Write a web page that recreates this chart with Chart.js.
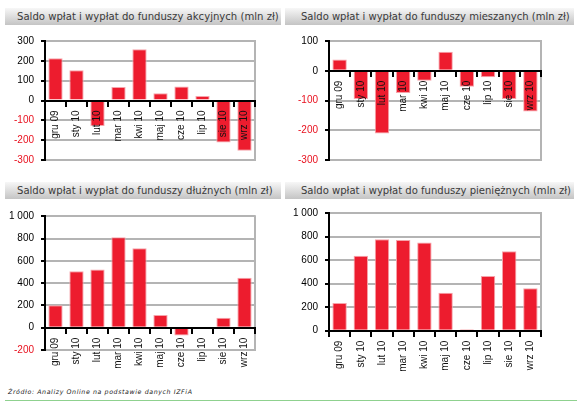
<!DOCTYPE html>
<html><head><meta charset="utf-8">
<script src="https://cdn.jsdelivr.net/npm/chart.js@4"></script>
<style>
body{margin:0;width:577px;height:402px;background:#fff;position:relative;overflow:hidden;}
.t{position:absolute;height:17px;background:linear-gradient(#f7f7f7,#c4c4c4);}
.t span{position:absolute;top:0;white-space:nowrap;color:#3a3a3a;font-family:"DejaVu Sans Condensed","DejaVu Sans";font-size:11px;line-height:17px;}
canvas{position:absolute;}
#src{position:absolute;left:8px;top:386px;white-space:nowrap;font-family:"DejaVu Sans";font-style:italic;font-size:8px;line-height:12px;color:#222;letter-spacing:0.6px;}
#gl{position:absolute;left:5px;top:400px;width:572px;height:1px;background:#8fd18f;}
</style></head><body>
<div class="t" style="left:5px;top:8px;width:276px"><span data-w="262" style="left:12px">Saldo wpłat i wypłat do funduszy akcyjnych (mln zł)</span></div>
<div class="t" style="left:285px;top:8px;width:289px"><span data-w="269" style="left:16px">Saldo wpłat i wypłat do funduszy mieszanych (mln zł)</span></div>
<div class="t" style="left:5px;top:182px;width:276px"><span data-w="256" style="left:12px">Saldo wpłat i wypłat do funduszy dłużnych (mln zł)</span></div>
<div class="t" style="left:285px;top:182px;width:289px"><span data-w="270" style="left:16px">Saldo wpłat i wypłat do funduszy pieniężnych (mln zł)</span></div>
<canvas id="c1" width="287" height="145" style="left:0;top:28px"></canvas>
<canvas id="c2" width="290" height="145" style="left:287px;top:28px"></canvas>
<canvas id="c3" width="287" height="175" style="left:0;top:203px"></canvas>
<canvas id="c4" width="290" height="180" style="left:287px;top:200px"></canvas>
<div id="src" data-w="185">Źródło: Analizy Online na podstawie danych IZFiA</div>
<div id="gl"></div>
<script>
const categories = ['gru 09','sty 10','lut 10','mar 10','kwi 10','maj 10','cze 10','lip 10','sie 10','wrz 10'];
const akcyjne = [213, 152, -128, 68, 258, 36, 71, 23, -212, -253];
const mieszane = [38, -95, -211, -75, -34, 64, -54, -22, -95, -137];
const dluzne = [202, 507, 522, 812, 714, 114, -69, -9, 90, 449];
const pieniezne = [235, 637, 776, 771, 749, 323, 13, 464, 675, 360];
// y-axis ranges: [min, max, step]
const rangeAkc = [-300, 300, 100];
const rangeMie = [-300, 100, 100];
const rangeDlu = [-200, 1000, 200];
const rangePie = [0, 1000, 200];

// fit title widths
const mc = document.createElement('canvas').getContext('2d');
document.querySelectorAll('[data-w]').forEach(el => {
  const cs = getComputedStyle(el);
  const fs = parseFloat(cs.fontSize);
  const ls = parseFloat(cs.letterSpacing) || 0;
  mc.font = cs.fontStyle + ' ' + fs + 'px ' + cs.fontFamily;
  const txt = el.textContent;
  const w = mc.measureText(txt).width;
  const target = +el.dataset.w - ls * txt.length;
  el.style.fontSize = (fs * target / w).toFixed(2) + 'px';
});

const fmt = v => String(v).replace(/\B(?=(\d{3})+(?!\d))/g, ' ');
const frame = {
  id: 'frame',
  beforeDatasetsDraw(chart) {
    const {ctx, chartArea: a} = chart;
    ctx.save();
    ctx.strokeStyle = '#b4b4b4';
    ctx.lineWidth = 2;
    ctx.beginPath();
    ctx.moveTo(a.right, a.top - 1);
    ctx.lineTo(a.right, a.bottom + 1);
    ctx.stroke();
    ctx.restore();
  }
};

function make(id, data, range, yw, pad) {
  new Chart(document.getElementById(id), {
    type: 'bar',
    data: {
      labels: categories,
      datasets: [{
        data: data,
        backgroundColor: '#ED1C2E',
        borderColor: '#F6A3AA',
        borderWidth: 1,
        barPercentage: 0.68,
        categoryPercentage: 1
      }]
    },
    options: {
      responsive: false,
      animation: false,
      events: [],
      layout: {padding: pad},
      plugins: {legend: {display: false}, tooltip: {enabled: false}},
      scales: {
        x: {
          position: {y: 0},
          grid: {display: true, drawOnChartArea: false, drawTicks: true, tickLength: 5, tickColor: '#000', lineWidth: 2, offset: true, z: 1},
          border: {display: true, color: '#000', width: 2, z: 1},
          ticks: {z: 1, color: '#111', font: {family: 'Liberation Sans', size: 10}, minRotation: 90, maxRotation: 90, autoSkip: false, padding: 5}
        },
        y: {
          min: range[0], max: range[1],
          afterFit: s => { s.width = yw; },
          grid: {color: c => (c.tick && c.tick.value === 0) ? '#000' : '#b4b4b4', lineWidth: 2, tickLength: 4, tickColor: '#000', drawTicks: true},
          border: {display: true, color: '#000', width: 2},
          ticks: {
            stepSize: range[2],
            padding: 7,
            font: {family: 'Liberation Sans', size: 10},
            color: c => (c.tick && c.tick.value < 0) ? '#E8101E' : '#000',
            callback: v => fmt(v)
          }
        }
      }
    },
    plugins: [frame]
  });
}
make('c1', akcyjne, rangeAkc, 45, {left: 0, top: 11, right: 32, bottom: 10.3});
make('c2', mieszane, rangeMie, 42, {left: 0, top: 11, right: 36, bottom: 10.7});
make('c3', dluzne, rangeDlu, 45, {left: 0, top: 13.3, right: 32, bottom: 28});
make('c4', pieniezne, rangePie, 42, {left: 0, top: 5.7, right: 36, bottom: 49.3});
</script>
</body></html>
